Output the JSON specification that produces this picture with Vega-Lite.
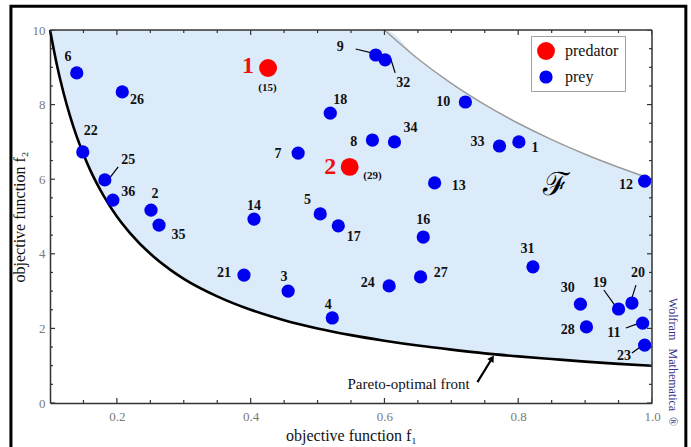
{
  "$schema": "https://vega.github.io/schema/vega-lite/v6.json",
  "width": 602,
  "height": 373,
  "autosize": "none",
  "padding": {"left": 50, "top": 30, "right": 39, "bottom": 44},
  "background": "white",
  "config": {
    "view": {"stroke": null},
    "axis": {
      "grid": false,
      "zindex": 1,
      "ticks": false,
      "domainColor": "#333333",
      "domainWidth": 1.5,
      "labelColor": "#7a7a7a",
      "labelFont": "Liberation Serif",
      "labelFontSize": 13,
      "titleFont": "Liberation Serif",
      "titleFontSize": 16,
      "titleFontWeight": "normal",
      "titleColor": "#111111",
      "labelFlush": false,
      "labelOverlap": false
    },
    "legend": {"labelFont": "Liberation Serif"}
  },
  "datasets": {
    "region": [
      {"x": 0.1, "lo": 10, "hi": 10},
      {"x": 0.11, "lo": 9.09, "hi": 10},
      {"x": 0.12, "lo": 8.33, "hi": 10},
      {"x": 0.13, "lo": 7.69, "hi": 10},
      {"x": 0.14, "lo": 7.14, "hi": 10},
      {"x": 0.15, "lo": 6.67, "hi": 10},
      {"x": 0.16, "lo": 6.25, "hi": 10},
      {"x": 0.18, "lo": 5.56, "hi": 10},
      {"x": 0.2, "lo": 5.0, "hi": 10},
      {"x": 0.22, "lo": 4.55, "hi": 10},
      {"x": 0.25, "lo": 4.0, "hi": 10},
      {"x": 0.28, "lo": 3.57, "hi": 10},
      {"x": 0.3, "lo": 3.33, "hi": 10},
      {"x": 0.35, "lo": 2.86, "hi": 10},
      {"x": 0.4, "lo": 2.5, "hi": 10},
      {"x": 0.45, "lo": 2.22, "hi": 10},
      {"x": 0.5, "lo": 2.0, "hi": 10},
      {"x": 0.55, "lo": 1.82, "hi": 10},
      {"x": 0.6, "lo": 1.67, "hi": 10},
      {"x": 0.65, "lo": 1.54, "hi": 9.23},
      {"x": 0.7, "lo": 1.43, "hi": 8.57},
      {"x": 0.75, "lo": 1.33, "hi": 8.0},
      {"x": 0.8, "lo": 1.25, "hi": 7.5},
      {"x": 0.85, "lo": 1.18, "hi": 7.06},
      {"x": 0.9, "lo": 1.11, "hi": 6.67},
      {"x": 0.95, "lo": 1.05, "hi": 6.32},
      {"x": 1.0, "lo": 1.0, "hi": 6.0}
    ],
    "xt": [
      {"v": 0.1}, {"v": 0.15}, {"v": 0.2}, {"v": 0.25}, {"v": 0.3}, {"v": 0.35}, {"v": 0.4}, {"v": 0.45}, {"v": 0.5}, {"v": 0.55},
      {"v": 0.6}, {"v": 0.65}, {"v": 0.7}, {"v": 0.75}, {"v": 0.8}, {"v": 0.85}, {"v": 0.9}, {"v": 0.95}, {"v": 1.0}
    ],
    "yt": [
      {"v": 0}, {"v": 0.5}, {"v": 1}, {"v": 1.5}, {"v": 2}, {"v": 2.5}, {"v": 3}, {"v": 3.5}, {"v": 4}, {"v": 4.5}, {"v": 5},
      {"v": 5.5}, {"v": 6}, {"v": 6.5}, {"v": 7}, {"v": 7.5}, {"v": 8}, {"v": 8.5}, {"v": 9}, {"v": 9.5}, {"v": 10}
    ],
    "pts": [
      {"id": 1, "x": 0.801, "y": 7.0, "type": "prey"},
      {"id": 2, "x": 0.251, "y": 5.17, "type": "prey"},
      {"id": 3, "x": 0.456, "y": 3.0, "type": "prey"},
      {"id": 4, "x": 0.522, "y": 2.28, "type": "prey"},
      {"id": 5, "x": 0.504, "y": 5.07, "type": "prey"},
      {"id": 6, "x": 0.14, "y": 8.85, "type": "prey"},
      {"id": 7, "x": 0.471, "y": 6.7, "type": "prey"},
      {"id": 8, "x": 0.582, "y": 7.05, "type": "prey"},
      {"id": 9, "x": 0.587, "y": 9.33, "type": "prey"},
      {"id": 10, "x": 0.721, "y": 8.07, "type": "prey"},
      {"id": 11, "x": 0.986, "y": 2.14, "type": "prey"},
      {"id": 12, "x": 0.989, "y": 5.95, "type": "prey"},
      {"id": 13, "x": 0.675, "y": 5.9, "type": "prey"},
      {"id": 14, "x": 0.405, "y": 4.93, "type": "prey"},
      {"id": 16, "x": 0.658, "y": 4.45, "type": "prey"},
      {"id": 17, "x": 0.531, "y": 4.75, "type": "prey"},
      {"id": 18, "x": 0.519, "y": 7.77, "type": "prey"},
      {"id": 19, "x": 0.95, "y": 2.52, "type": "prey"},
      {"id": 20, "x": 0.97, "y": 2.68, "type": "prey"},
      {"id": 21, "x": 0.39, "y": 3.43, "type": "prey"},
      {"id": 22, "x": 0.149, "y": 6.73, "type": "prey"},
      {"id": 23, "x": 0.989, "y": 1.55, "type": "prey"},
      {"id": 24, "x": 0.607, "y": 3.14, "type": "prey"},
      {"id": 25, "x": 0.182, "y": 5.98, "type": "prey"},
      {"id": 26, "x": 0.208, "y": 8.34, "type": "prey"},
      {"id": 27, "x": 0.654, "y": 3.38, "type": "prey"},
      {"id": 28, "x": 0.902, "y": 2.04, "type": "prey"},
      {"id": 30, "x": 0.893, "y": 2.65, "type": "prey"},
      {"id": 31, "x": 0.822, "y": 3.65, "type": "prey"},
      {"id": 32, "x": 0.601, "y": 9.2, "type": "prey"},
      {"id": 33, "x": 0.772, "y": 6.89, "type": "prey"},
      {"id": 34, "x": 0.615, "y": 7.0, "type": "prey"},
      {"id": 35, "x": 0.263, "y": 4.77, "type": "prey"},
      {"id": 36, "x": 0.194, "y": 5.44, "type": "prey"},
      {"id": 15, "x": 0.426, "y": 8.98, "type": "predator"},
      {"id": 29, "x": 0.548, "y": 6.33, "type": "predator"}
    ],
    "labels": [
      {"t": "6", "x": 0.127, "y": 9.28, "k": "n"},
      {"t": "26", "x": 0.23, "y": 8.12, "k": "n"},
      {"t": "22", "x": 0.161, "y": 7.29, "k": "n"},
      {"t": "25", "x": 0.217, "y": 6.51, "k": "n"},
      {"t": "36", "x": 0.217, "y": 5.66, "k": "n"},
      {"t": "2", "x": 0.257, "y": 5.6, "k": "n"},
      {"t": "35", "x": 0.292, "y": 4.5, "k": "n"},
      {"t": "14", "x": 0.405, "y": 5.28, "k": "n"},
      {"t": "21", "x": 0.36, "y": 3.49, "k": "n"},
      {"t": "3", "x": 0.45, "y": 3.38, "k": "n"},
      {"t": "4", "x": 0.516, "y": 2.63, "k": "n"},
      {"t": "7", "x": 0.441, "y": 6.68, "k": "n"},
      {"t": "18", "x": 0.534, "y": 8.12, "k": "n"},
      {"t": "5", "x": 0.485, "y": 5.44, "k": "n"},
      {"t": "17", "x": 0.554, "y": 4.45, "k": "n"},
      {"t": "9", "x": 0.534, "y": 9.54, "k": "n"},
      {"t": "32", "x": 0.628, "y": 8.58, "k": "n"},
      {"t": "10", "x": 0.688, "y": 8.07, "k": "n"},
      {"t": "8", "x": 0.554, "y": 7.0, "k": "n"},
      {"t": "34", "x": 0.639, "y": 7.37, "k": "n"},
      {"t": "33", "x": 0.739, "y": 7.0, "k": "n"},
      {"t": "1", "x": 0.825, "y": 6.84, "k": "n"},
      {"t": "13", "x": 0.711, "y": 5.82, "k": "n"},
      {"t": "12", "x": 0.961, "y": 5.84, "k": "n"},
      {"t": "16", "x": 0.658, "y": 4.91, "k": "n"},
      {"t": "24", "x": 0.575, "y": 3.22, "k": "n"},
      {"t": "27", "x": 0.684, "y": 3.49, "k": "n"},
      {"t": "31", "x": 0.814, "y": 4.13, "k": "n"},
      {"t": "30", "x": 0.874, "y": 3.08, "k": "n"},
      {"t": "28", "x": 0.874, "y": 1.96, "k": "n"},
      {"t": "19", "x": 0.922, "y": 3.22, "k": "n"},
      {"t": "20", "x": 0.979, "y": 3.49, "k": "n"},
      {"t": "11", "x": 0.943, "y": 1.88, "k": "n"},
      {"t": "23", "x": 0.958, "y": 1.26, "k": "n"},
      {"t": "1", "x": 0.396, "y": 9.03, "k": "p"},
      {"t": "2", "x": 0.519, "y": 6.33, "k": "p"},
      {"t": "(15)", "x": 0.425, "y": 8.45, "k": "q"},
      {"t": "(29)", "x": 0.582, "y": 6.09, "k": "q"}
    ],
    "leaders": [
      {"x": 0.557, "y": 9.49, "x2": 0.587, "y2": 9.36},
      {"x": 0.609, "y": 9.25, "x2": 0.616, "y2": 8.85},
      {"x": 0.202, "y": 6.33, "x2": 0.187, "y2": 5.98},
      {"x": 0.928, "y": 3.03, "x2": 0.944, "y2": 2.63},
      {"x": 0.976, "y": 3.16, "x2": 0.97, "y2": 2.82},
      {"x": 0.961, "y": 2.01, "x2": 0.981, "y2": 2.14},
      {"x": 0.97, "y": 1.34, "x2": 0.986, "y2": 1.55}
    ],
    "arrow": [
      {"x": 0.739, "y": 0.56, "x2": 0.761, "y2": 1.2}
    ],
    "notes": [
      {"t": "Pareto-optimal front", "x": 0.636, "y": 0.51}
    ]
  },
  "encoding": {
    "x": {
      "type": "quantitative",
      "scale": {"domain": [0.1, 1.0], "nice": false, "zero": false},
      "axis": {
        "orient": "bottom",
        "values": [0.2, 0.4, 0.6, 0.8, 1.0],
        "format": ".1f",
        "labelPadding": 7,
        "title": "objective function  f₁",
        "titlePadding": 4
      }
    },
    "y": {
      "type": "quantitative",
      "scale": {"domain": [0, 10], "nice": false, "zero": false},
      "axis": {
        "orient": "left",
        "values": [0, 2, 4, 6, 8, 10],
        "format": "d",
        "labelPadding": 5,
        "title": "objective function  f₂",
        "titlePadding": 5
      }
    }
  },
  "layer": [
    {
      "data": {"name": "region"},
      "mark": {"type": "area", "color": "#dcebfa", "interpolate": "monotone"},
      "encoding": {
        "x": {"field": "x", "type": "quantitative"},
        "y": {"field": "hi", "type": "quantitative"},
        "y2": {"field": "lo"}
      }
    },
    {
      "data": {"name": "region"},
      "transform": [{"filter": "datum.x >= 0.6"}],
      "mark": {"type": "line", "color": "#9a9a9a", "strokeWidth": 1.5, "interpolate": "monotone"},
      "encoding": {
        "x": {"field": "x", "type": "quantitative"},
        "y": {"field": "hi", "type": "quantitative"}
      }
    },
    {
      "data": {"name": "region"},
      "mark": {"type": "line", "color": "#000000", "strokeWidth": 2.6, "interpolate": "monotone"},
      "encoding": {
        "x": {"field": "x", "type": "quantitative"},
        "y": {"field": "lo", "type": "quantitative"}
      }
    },
    {
      "data": {"name": "xt"},
      "transform": [{"filter": "abs(datum.v*5 - round(datum.v*5)) < 0.001"}],
      "mark": {"type": "tick", "orient": "vertical", "size": 10, "thickness": 1.2, "color": "#333333", "opacity": 1, "clip": true},
      "encoding": {"x": {"field": "v", "type": "quantitative"}, "y": {"datum": 0}}
    },
    {
      "data": {"name": "xt"},
      "transform": [{"filter": "abs(datum.v*5 - round(datum.v*5)) >= 0.001"}],
      "mark": {"type": "tick", "orient": "vertical", "size": 6, "thickness": 1.2, "color": "#333333", "opacity": 1, "clip": true},
      "encoding": {"x": {"field": "v", "type": "quantitative"}, "y": {"datum": 0}}
    },
    {
      "data": {"name": "xt"},
      "transform": [{"filter": "abs(datum.v*5 - round(datum.v*5)) < 0.001"}],
      "mark": {"type": "tick", "orient": "vertical", "size": 10, "thickness": 1.2, "color": "#333333", "opacity": 1, "clip": true},
      "encoding": {"x": {"field": "v", "type": "quantitative"}, "y": {"datum": 10}}
    },
    {
      "data": {"name": "xt"},
      "transform": [{"filter": "abs(datum.v*5 - round(datum.v*5)) >= 0.001"}],
      "mark": {"type": "tick", "orient": "vertical", "size": 6, "thickness": 1.2, "color": "#333333", "opacity": 1, "clip": true},
      "encoding": {"x": {"field": "v", "type": "quantitative"}, "y": {"datum": 10}}
    },
    {
      "data": {"name": "yt"},
      "transform": [{"filter": "datum.v % 2 == 0"}],
      "mark": {"type": "tick", "orient": "horizontal", "size": 10, "thickness": 1.2, "color": "#333333", "opacity": 1, "clip": true},
      "encoding": {"y": {"field": "v", "type": "quantitative"}, "x": {"datum": 0.1}}
    },
    {
      "data": {"name": "yt"},
      "transform": [{"filter": "datum.v % 2 != 0"}],
      "mark": {"type": "tick", "orient": "horizontal", "size": 6, "thickness": 1.2, "color": "#333333", "opacity": 1, "clip": true},
      "encoding": {"y": {"field": "v", "type": "quantitative"}, "x": {"datum": 0.1}}
    },
    {
      "data": {"name": "yt"},
      "transform": [{"filter": "datum.v % 2 == 0"}],
      "mark": {"type": "tick", "orient": "horizontal", "size": 10, "thickness": 1.2, "color": "#333333", "opacity": 1, "clip": true},
      "encoding": {"y": {"field": "v", "type": "quantitative"}, "x": {"datum": 1.0}}
    },
    {
      "data": {"name": "yt"},
      "transform": [{"filter": "datum.v % 2 != 0"}],
      "mark": {"type": "tick", "orient": "horizontal", "size": 6, "thickness": 1.2, "color": "#333333", "opacity": 1, "clip": true},
      "encoding": {"y": {"field": "v", "type": "quantitative"}, "x": {"datum": 1.0}}
    },
    {
      "data": {"values": [{}]},
      "mark": {"type": "rule", "color": "#333333", "strokeWidth": 1.5},
      "encoding": {"y": {"datum": 10}}
    },
    {
      "data": {"values": [{}]},
      "mark": {"type": "rule", "color": "#333333", "strokeWidth": 1.5},
      "encoding": {"x": {"datum": 1.0}}
    },
    {
      "data": {"name": "leaders"},
      "mark": {"type": "rule", "color": "#000000", "strokeWidth": 1.2},
      "encoding": {
        "x": {"field": "x", "type": "quantitative"},
        "y": {"field": "y", "type": "quantitative"},
        "x2": {"field": "x2"},
        "y2": {"field": "y2"}
      }
    },
    {
      "data": {"name": "arrow"},
      "mark": {"type": "rule", "color": "#000000", "strokeWidth": 2.2},
      "encoding": {
        "x": {"field": "x", "type": "quantitative"},
        "y": {"field": "y", "type": "quantitative"},
        "x2": {"field": "x2"},
        "y2": {"field": "y2"}
      }
    },
    {
      "data": {"name": "arrow"},
      "mark": {"type": "point", "shape": "triangle-up", "filled": true, "color": "#000000", "size": 55, "angle": 33, "opacity": 1},
      "encoding": {
        "x": {"field": "x2", "type": "quantitative"},
        "y": {"field": "y2", "type": "quantitative"}
      }
    },
    {
      "data": {"name": "pts"},
      "mark": {"type": "point", "filled": true, "opacity": 1, "strokeWidth": 0},
      "encoding": {
        "x": {"field": "x", "type": "quantitative"},
        "y": {"field": "y", "type": "quantitative"},
        "color": {
          "field": "type", "type": "nominal",
          "scale": {"domain": ["predator", "prey"], "range": ["#ff0000", "#0000f0"]},
          "legend": {
            "title": null,
            "orient": "none",
            "legendX": 481,
            "legendY": 6,
            "padding": 6,
            "strokeColor": "#a0a0a0",
            "fillColor": "#ffffff",
            "symbolType": "circle",
            "symbolSize": 240,
            "symbolStrokeWidth": 0,
            "labelFontSize": 16,
            "labelColor": "#111111",
            "labelOffset": 10,
            "rowPadding": 9
          }
        },
        "size": {
          "field": "type", "type": "nominal",
          "scale": {"domain": ["predator", "prey"], "range": [320, 175]},
          "legend": null
        }
      }
    },
    {
      "data": {"name": "labels"},
      "transform": [{"filter": "datum.k == 'n'"}],
      "mark": {"type": "text", "font": "Liberation Serif", "fontWeight": "bold", "fontSize": 14, "color": "#111111", "align": "center", "baseline": "middle"},
      "encoding": {
        "x": {"field": "x", "type": "quantitative"},
        "y": {"field": "y", "type": "quantitative"},
        "text": {"field": "t"}
      }
    },
    {
      "data": {"name": "labels"},
      "transform": [{"filter": "datum.k == 'p'"}],
      "mark": {"type": "text", "font": "Liberation Serif", "fontWeight": "bold", "fontSize": 24, "color": "#ee1111", "align": "center", "baseline": "middle"},
      "encoding": {
        "x": {"field": "x", "type": "quantitative"},
        "y": {"field": "y", "type": "quantitative"},
        "text": {"field": "t"}
      }
    },
    {
      "data": {"name": "labels"},
      "transform": [{"filter": "datum.k == 'q'"}],
      "mark": {"type": "text", "font": "Liberation Serif", "fontWeight": "bold", "fontSize": 11, "color": "#111111", "align": "center", "baseline": "middle"},
      "encoding": {
        "x": {"field": "x", "type": "quantitative"},
        "y": {"field": "y", "type": "quantitative"},
        "text": {"field": "t"}
      }
    },
    {
      "data": {"name": "notes"},
      "mark": {"type": "text", "font": "Liberation Serif", "fontSize": 15, "color": "#111111", "align": "center", "baseline": "middle"},
      "encoding": {
        "x": {"field": "x", "type": "quantitative"},
        "y": {"field": "y", "type": "quantitative"},
        "text": {"field": "t"}
      }
    },
    {
      "data": {"values": [{"t": "ℱ", "x": 0.856, "y": 5.84}]},
      "mark": {"type": "text", "font": "DejaVu Serif", "fontSize": 32, "color": "#000000", "align": "center", "baseline": "middle"},
      "encoding": {
        "x": {"field": "x", "type": "quantitative"},
        "y": {"field": "y", "type": "quantitative"},
        "text": {"field": "t"}
      }
    },
    {
      "data": {"values": [
        {"t": "Wolfram", "x": 1.031, "y": 2.25, "s": "normal"},
        {"t": "Mathematica", "x": 1.031, "y": 0.62, "s": "italic"},
        {"t": "®", "x": 1.031, "y": -0.5, "s": "normal"}
      ]},
      "mark": {"type": "text", "font": "Liberation Serif", "fontSize": 12, "color": "#33338c", "align": "center", "baseline": "middle", "angle": 90, "clip": false},
      "encoding": {
        "x": {"field": "x", "type": "quantitative"},
        "y": {"field": "y", "type": "quantitative"},
        "text": {"field": "t"},
        "fontStyle": {"field": "s", "type": "nominal", "scale": null}
      }
    },
    {
      "data": {"values": [{"x": 0.0416, "x2": 1.0506, "y": 10.64, "y2": -1.6}]},
      "mark": {"type": "rect", "fill": null, "fillOpacity": 0, "stroke": "#000000", "strokeWidth": 3, "clip": false},
      "encoding": {
        "x": {"field": "x", "type": "quantitative"},
        "x2": {"field": "x2"},
        "y": {"field": "y", "type": "quantitative"},
        "y2": {"field": "y2"}
      }
    }
  ]
}
